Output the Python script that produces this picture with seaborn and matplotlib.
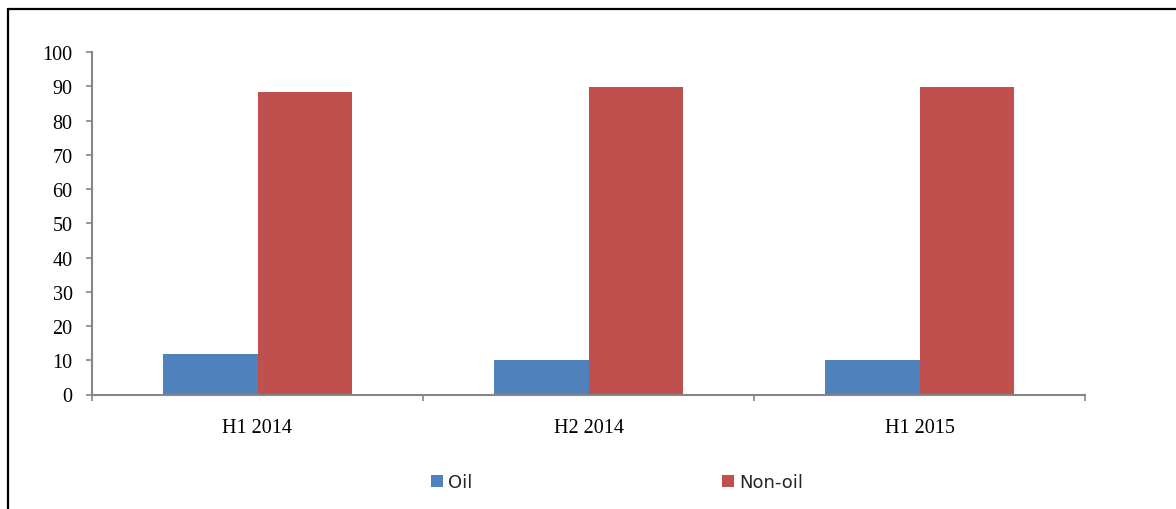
import numpy as np
import pandas as pd
import matplotlib
matplotlib.use("Agg")
import matplotlib.pyplot as plt
from matplotlib.lines import Line2D
from matplotlib.patches import Patch
import seaborn as sns

categories = ["H1 2014", "H2 2014", "H1 2015"]
oil = [11.7, 10.1, 10.1]
non_oil = [88.3, 89.9, 89.9]
series_names = ["Oil", "Non-oil"]
colors = ["#4F81BD", "#C0504D"]
y_ticks = list(range(0, 101, 10))

df = pd.DataFrame({
    "period": categories * 2,
    "series": [series_names[0]] * 3 + [series_names[1]] * 3,
    "value": oil + non_oil,
})

sns.set_style("white")
plt.rcParams["font.family"] = ["Liberation Serif", "DejaVu Serif"]

fig = plt.figure(figsize=(11.76, 5.10), dpi=100)
ax = fig.add_axes([92 / 1176, 1 - 395.5 / 510, (1085 - 92) / 1176, (395.5 - 53) / 510])

sns.barplot(data=df, x="period", y="value", hue="series", order=categories,
            hue_order=series_names, palette=colors, width=0.57, gap=0,
            saturation=1, ax=ax, legend=False, edgecolor="none")

ax.set_xlim(-0.5, 2.5)
ax.set_ylim(0, 100)
ax.set_yticks(y_ticks)
ax.set_xlabel("")
ax.set_ylabel("")

axis_col = "#868686"
for s in ["top", "right"]:
    ax.spines[s].set_visible(False)
for s in ["left", "bottom"]:
    ax.spines[s].set_visible(True)
    ax.spines[s].set_color(axis_col)
    ax.spines[s].set_linewidth(1.5)

ax.tick_params(axis="y", which="major", direction="out", length=4, width=1.2,
               color=axis_col, pad=10, labelsize=14.5, labelcolor="black", left=True)
ax.set_xticks([0, 1, 2])
ax.set_xticklabels(categories)
ax.set_xticks([-0.5, 0.5, 1.5, 2.5], minor=True)
ax.tick_params(axis="x", which="major", length=0, pad=17, labelsize=14.5, labelcolor="black")
ax.tick_params(axis="x", which="minor", direction="out", length=4, width=1.2,
               color=axis_col, bottom=True)

handles = [Patch(facecolor=c, edgecolor="none") for c in colors]
fig.legend(handles, series_names, loc="center", bbox_to_anchor=(617 / 1176, 1 - 483 / 510),
           ncol=2, frameon=False, prop={"family": "DejaVu Sans", "size": 13},
           handlelength=0.67, handleheight=0.67, handletextpad=0.3, columnspacing=13.8,
           borderpad=0, borderaxespad=0)

# outer border (top and left)
fig.add_artist(Line2D([7.5 / 1176, 1], [1 - 10 / 510, 1 - 10 / 510], color="black",
                      linewidth=1.6, transform=fig.transFigure))
fig.add_artist(Line2D([7.5 / 1176, 7.5 / 1176], [0, 1 - 10 / 510], color="black",
                      linewidth=1.6, transform=fig.transFigure))

fig.savefig("out.png", dpi=100)
